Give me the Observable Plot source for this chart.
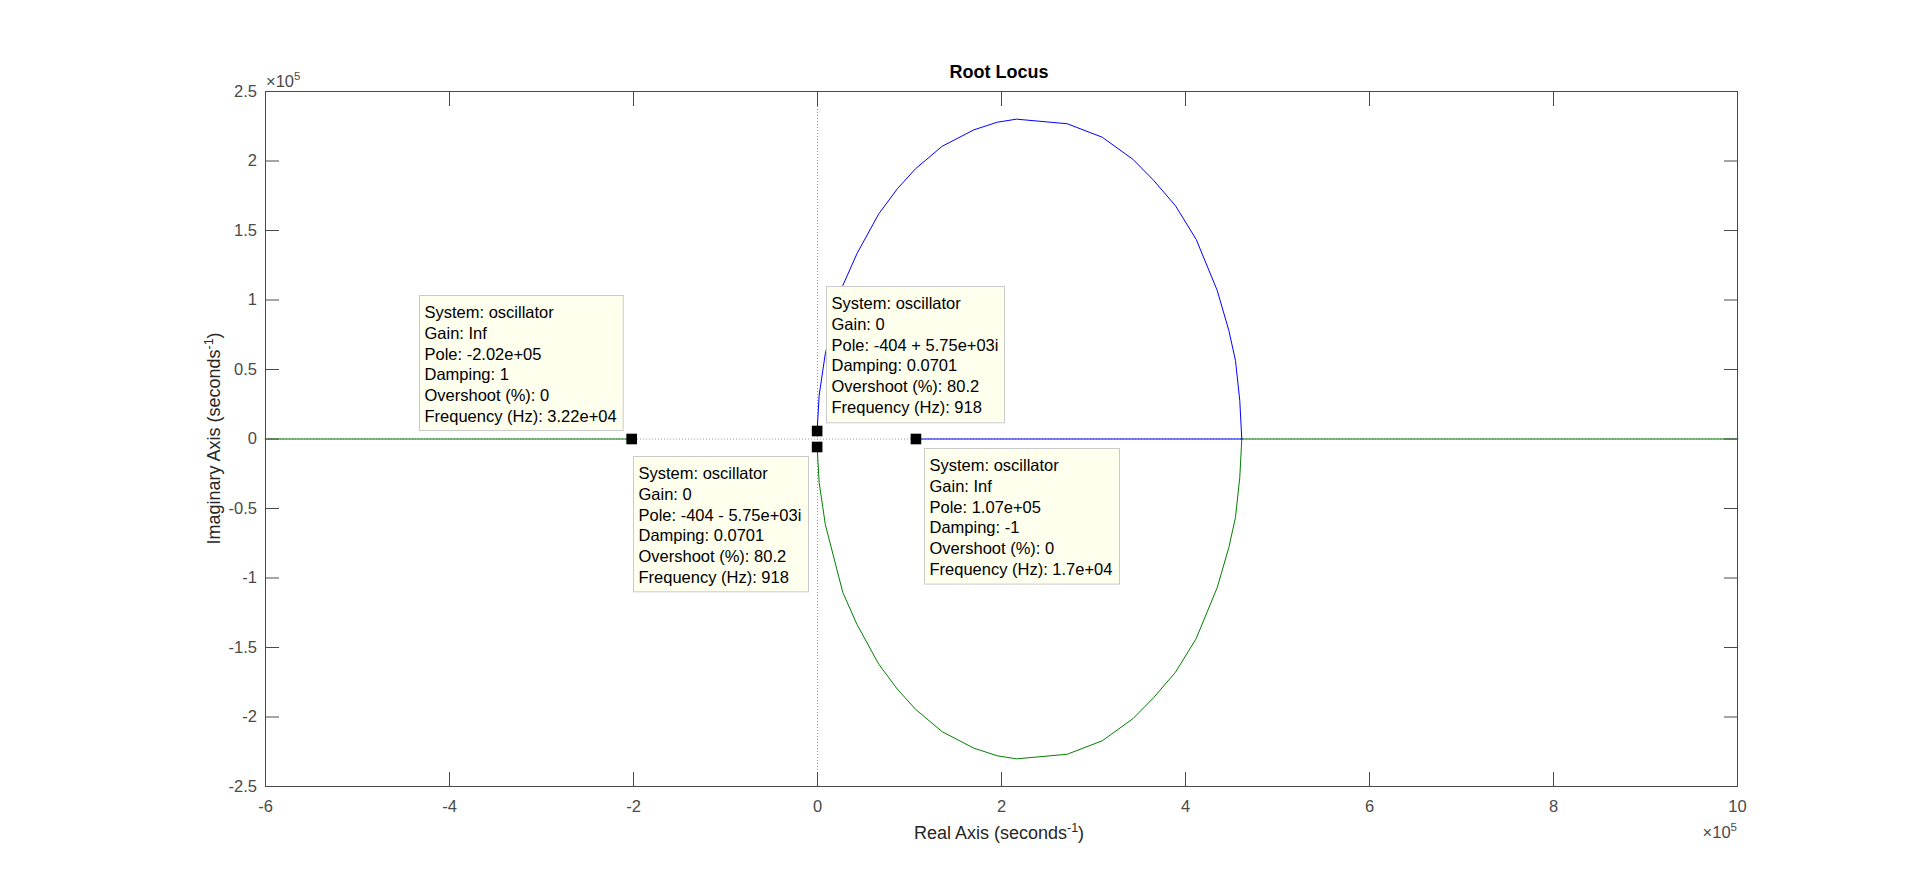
<!DOCTYPE html>
<html>
<head>
<meta charset="utf-8">
<script src="https://cdn.jsdelivr.net/npm/d3@7"></script>
<script src="https://cdn.jsdelivr.net/npm/@observablehq/plot@0.6"></script>
<style>
  html, body { margin: 0; padding: 0; background: #fff; overflow: hidden; }
  #chart svg { display: block; }
</style>
</head>
<body>
<div id="chart"></div>
<script>
// ---------- data ----------
const titleText = "Root Locus";
const xLabelText = "Real Axis (seconds";
const yLabelText = "Imaginary Axis (seconds";
const unitSup = "-1";
const exponent = 5;               // axes shown in units of 10^5
const unit = 1e5;

const xTicks = [-6, -4, -2, 0, 2, 4, 6, 8, 10];
const xTickLabels = ["-6", "-4", "-2", "0", "2", "4", "6", "8", "10"];
const yTicks = [-2.5, -2, -1.5, -1, -0.5, 0, 0.5, 1, 1.5, 2, 2.5];
const yTickLabels = ["-2.5", "-2", "-1.5", "-1", "-0.5", "0", "0.5", "1", "1.5", "2", "2.5"];

// upper (blue) complex branch
const upperRe = [-404, 1800, 8500, 27500, 43000, 66600, 86800, 106500, 135500, 169900, 195300, 216300,
                 271400, 309500, 342900, 365500, 389100, 411700, 434500, 447100, 454300, 459000, 461200];
const upperIm = [5750, 31300, 61500, 110400, 133500, 162000, 180000, 194400, 210600, 222400, 227900, 230100,
                 226800, 217100, 201200, 186000, 167800, 143500, 106800, 78100, 56500, 27700, 0];
// lower (green) complex branch
const lowerRe = [-404, 1800, 8500, 27500, 43000, 66600, 86800, 106500, 135500, 169900, 195300, 216300,
                 271400, 309500, 342900, 365500, 389100, 411700, 434500, 447100, 454300, 459000, 461200];
const lowerIm = [-5750, -31300, -61500, -110400, -133500, -162000, -180000, -194400, -210600, -222400, -227900, -230100,
                 -226800, -217100, -201200, -186000, -167800, -143500, -106800, -78100, -56500, -27700, 0];
// real-axis segments
const blueAxisRe = [107000, 461200];
const blueAxisIm = [0, 0];
const greenRightRe = [461200, 1000000];
const greenRightIm = [0, 0];
const greenLeftRe = [-600000, -202000];
const greenLeftIm = [0, 0];

// data tips
const tipRe = [-202000, -404, -404, 107000];
const tipIm = [0, -5750, 5750, 0];
const tipSystem = ["oscillator", "oscillator", "oscillator", "oscillator"];
const tipGain = ["Inf", "0", "0", "Inf"];
const tipPole = ["-2.02e+05", "-404 - 5.75e+03i", "-404 + 5.75e+03i", "1.07e+05"];
const tipDamping = ["1", "0.0701", "0.0701", "-1"];
const tipOvershoot = ["0", "80.2", "80.2", "0"];
const tipFreq = ["3.22e+04", "918", "918", "1.7e+04"];

// ---------- layout / style ----------
const FONT = "'Liberation Sans', Arial, Helvetica, sans-serif";
const axisGray = "#4a4a4a";
// box placement relative to its tip point, in pixels: [dx, dy, width, height]
const tipLayout = [
  [-212.2, -143.5, 203.7, 135],
  [-183.3, 9.2, 175, 135.3],
  [9.4, -144.5, 178, 136.3],
  [8.9, 9.2, 195, 135.6]
];

const tipLines = tipRe.map((_, i) => [
  `System: ${tipSystem[i]}`,
  `Gain: ${tipGain[i]}`,
  `Pole: ${tipPole[i]}`,
  `Damping: ${tipDamping[i]}`,
  `Overshoot (%): ${tipOvershoot[i]}`,
  `Frequency (Hz): ${tipFreq[i]}`
]);

function tipBoxes(index, scales) {
  const g = d3.create("svg:g");
  tipRe.forEach((re, i) => {
    const [dx, dy, w, h] = tipLayout[i];
    const px = scales.x(re), py = scales.y(tipIm[i]);
    const bx = Math.round(px + dx) + 0.5, by = Math.round(py + dy) + 0.5;
    g.append("rect")
      .attr("x", bx).attr("y", by)
      .attr("width", w).attr("height", h)
      .attr("fill", "#ffffee").attr("stroke", "#cacaca").attr("stroke-width", 1);
    const t = g.append("text")
      .attr("font-family", FONT).attr("font-size", 16.5).attr("fill", "#000")
      .attr("text-anchor", "start");
    tipLines[i].forEach((line, j) => {
      t.append("tspan").attr("x", bx + 5).attr("y", by + 22.5 + j * 20.8).text(line);
    });
  });
  return g.node();
}

function decor(index, scales, values, dims) {
  const {width, height, marginLeft, marginRight, marginTop, marginBottom} = dims;
  const left = marginLeft, right = width - marginRight, top = marginTop, bottom = height - marginBottom;
  const cx = (left + right) / 2 - 2;
  const cy = (top + bottom) / 2;
  const g = d3.create("svg:g").attr("font-family", FONT);
  // title
  g.append("text").attr("x", cx).attr("y", top - 13).attr("text-anchor", "middle")
    .attr("font-size", 18).attr("font-weight", "bold").attr("fill", "#000").text(titleText);
  // x label
  const xl = g.append("text").attr("x", cx).attr("y", bottom + 53).attr("text-anchor", "middle")
    .attr("font-size", 18).attr("fill", "#262626");
  xl.append("tspan").text(xLabelText);
  xl.append("tspan").attr("font-size", 12.5).attr("dy", -7).text(unitSup);
  xl.append("tspan").attr("dy", 7).text(")");
  // y label
  const yl = g.append("text").attr("transform", `translate(${left - 45},${cy}) rotate(-90)`)
    .attr("text-anchor", "middle").attr("font-size", 18).attr("fill", "#262626");
  yl.append("tspan").text(yLabelText);
  yl.append("tspan").attr("font-size", 12.5).attr("dy", -7).text(unitSup);
  yl.append("tspan").attr("dy", 7).text(")");
  // exponents
  const e1 = g.append("text").attr("x", left + 1).attr("y", top - 4.5).attr("text-anchor", "start")
    .attr("font-size", 16.5).attr("fill", axisGray);
  e1.append("tspan").text("\u00d710");
  e1.append("tspan").attr("font-size", 11.5).attr("dy", -7).text(String(exponent));
  const e2 = g.append("text").attr("x", right).attr("y", bottom + 52).attr("text-anchor", "end")
    .attr("font-size", 16.5).attr("fill", axisGray);
  e2.append("tspan").text("\u00d710");
  e2.append("tspan").attr("font-size", 11.5).attr("dy", -7).text(String(exponent));
  return g.node();
}

const xTickVals = xTicks.map(t => t * unit);
const yTickVals = yTicks.map(t => t * unit);
const xFmt = d => xTickLabels[xTickVals.indexOf(d)];
const yFmt = d => yTickLabels[yTickVals.indexOf(d)];

const chart = Plot.plot({
  width: 1920,
  height: 884,
  marginLeft: 265,
  marginRight: 183,
  marginTop: 91,
  marginBottom: 98,
  style: {fontFamily: FONT, fontSize: "16.5px", background: "#fff", color: axisGray},
  x: {domain: [-6 * unit, 10 * unit], label: null},
  y: {domain: [-2.5 * unit, 2.5 * unit], label: null},
  marks: [
    Plot.ruleX([0], {stroke: "#9a9a9a", strokeDasharray: "1,2"}),
    Plot.ruleY([0], {stroke: "#9a9a9a", strokeDasharray: "1,2"}),
    Plot.line(greenLeftRe, {x: greenLeftRe, y: greenLeftIm, stroke: "#008000", strokeOpacity: 0.5, strokeWidth: 2}),
    Plot.line(greenRightRe, {x: greenRightRe, y: greenRightIm, stroke: "#008000", strokeOpacity: 0.5, strokeWidth: 2}),
    Plot.line(blueAxisRe, {x: blueAxisRe, y: blueAxisIm, stroke: "#0000ff", strokeOpacity: 0.5, strokeWidth: 2}),
    Plot.line(lowerRe, {x: lowerRe, y: lowerIm, stroke: "#008000", strokeWidth: 1}),
    Plot.line(upperRe, {x: upperRe, y: upperIm, stroke: "#0000ff", strokeWidth: 1}),
    Plot.dot(tipRe, {x: tipRe, y: tipIm, symbol: "square", r: 6, fill: "#000", stroke: null}),
    tipBoxes,
    Plot.frame({stroke: axisGray, strokeWidth: 1}),
    Plot.axisX(xTickVals, {anchor: "bottom", tickSize: -14, tickPadding: 28, tickFormat: xFmt, fontSize: 16.5, color: axisGray, label: null}),
    Plot.axisX(xTickVals, {anchor: "top", tickSize: -14, tickFormat: () => "", color: axisGray, label: null}),
    Plot.axisY(yTickVals, {anchor: "left", tickSize: -14, tickPadding: 22.6, tickFormat: yFmt, fontSize: 16.5, color: axisGray, label: null}),
    Plot.axisY(yTickVals, {anchor: "right", tickSize: -14, tickFormat: () => "", color: axisGray, label: null}),
    decor
  ]
});
document.getElementById("chart").appendChild(chart);
</script>
</body>
</html>
